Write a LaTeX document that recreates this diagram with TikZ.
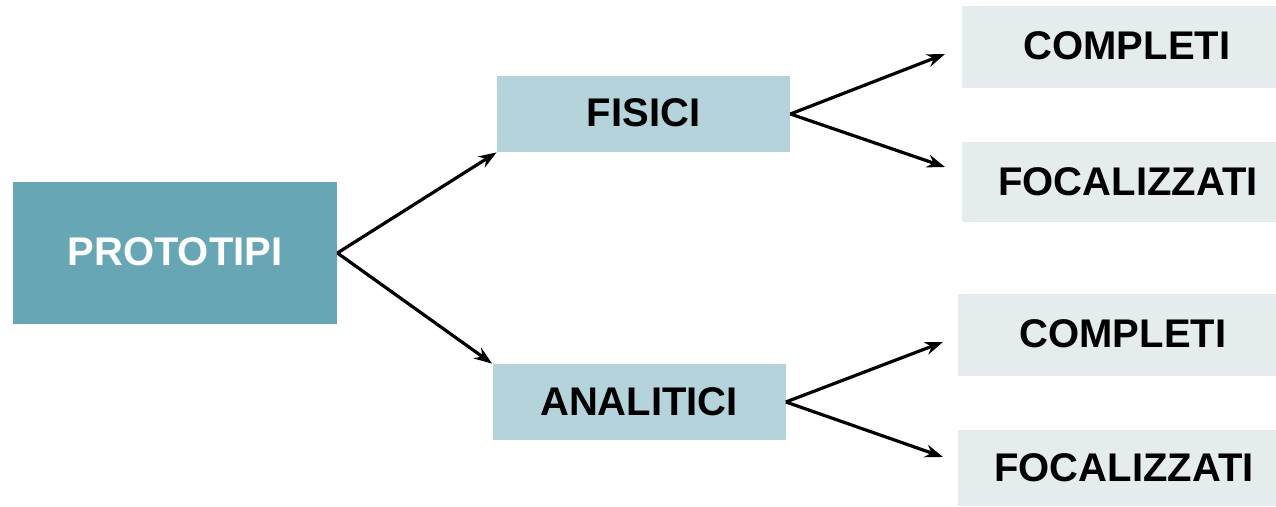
\documentclass[tikz,border=0pt]{standalone}
\usepackage{fontspec}
\setmainfont{Liberation Sans}
\usetikzlibrary{arrows.meta}
\definecolor{rootc}{HTML}{67A6B5}
\definecolor{midc}{HTML}{B4D3DB}
\definecolor{leafc}{HTML}{E4ECEE}
\begin{document}
\begin{tikzpicture}[x=0.5pt,y=-0.5pt,
  box/.style={inner sep=0pt,font=\fontsize{20}{22}\selectfont\bfseries},
  rootbox/.style={box,fill=rootc,text=white,minimum width=162pt,minimum height=71pt},
  midbox/.style={box,fill=midc,minimum width=146.5pt,minimum height=38pt},
  leafbox/.style={box,fill=leafc,minimum width=165pt,minimum height=41pt},
  conn/.style={line width=1.6pt,-{Stealth[length=9pt,width=6.5pt]}}]
\useasboundingbox (0,0) rectangle (1276,507);
\node[rootbox,text depth=0pt] (p) at (175,253) {\raisebox{1.5pt}{PROTOTIPI}};
\node[midbox] (f) at (643.5,114) {\raisebox{1.5pt}{FISICI}};
\node[midbox] (a) at (639,402) {ANALITICI};
\node[leafbox] (c1) at (1127,47) {\raisebox{1.5pt}{COMPLETI}};
\node[leafbox,minimum width=166pt,minimum height=40pt] (f1) at (1128,182) {FOCALIZZATI};
\node[leafbox] (c2) at (1123,335) {\raisebox{1.5pt}{COMPLETI}};
\node[leafbox,minimum width=166pt,minimum height=38pt] (f2) at (1124,468) {FOCALIZZATI};
\coordinate (e1) at (945,54);
\coordinate (e2) at (945,167);
\coordinate (e3) at (943,342);
\coordinate (e4) at (943,457);
\draw[conn] (p.east) -- (f.south west);
\draw[conn] (p.east) -- (a.north west);
\draw[conn] (f.east) -- (e1);
\draw[conn] (f.east) -- (e2);
\draw[conn] (a.east) -- (e3);
\draw[conn] (a.east) -- (e4);
\end{tikzpicture}
\end{document}
